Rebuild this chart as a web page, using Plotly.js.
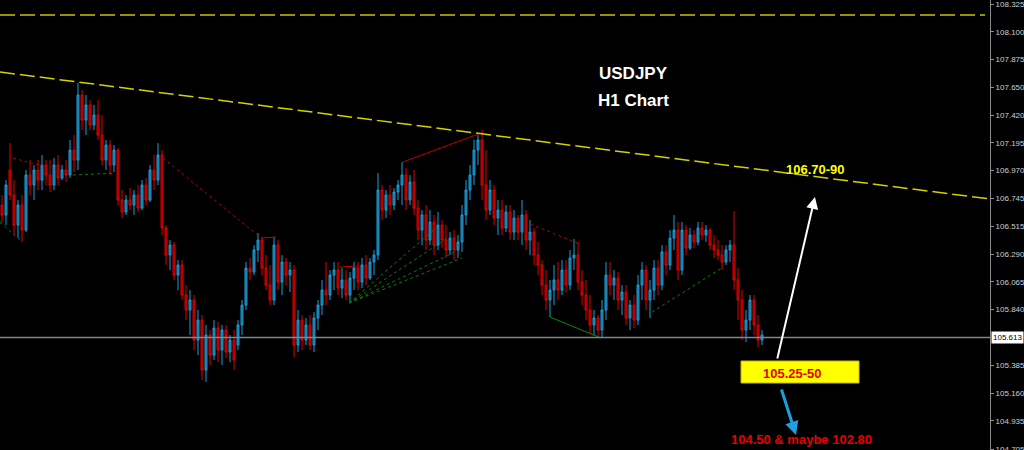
<!DOCTYPE html>
<html>
<head>
<meta charset="utf-8">
<script src="https://cdn.plot.ly/plotly-3.0.1.min.js"></script>
<style>html,body{margin:0;padding:0;background:#000;}#chart{width:1024px;height:450px;}</style>
</head>
<body>
<div id="chart"></div>
<script>
// ---- USDJPY H1 candles (prices) ----
const openP = [
106.690,106.609,106.975,106.771,106.527,106.690,106.486,106.934,106.853,106.975,
106.893,107.015,106.934,106.853,107.015,106.910,106.975,106.934,107.137,107.056,
107.585,107.381,107.504,107.341,107.422,107.259,107.056,107.178,107.015,107.137,
106.731,106.633,106.731,106.690,106.771,106.665,106.853,106.731,106.975,106.893,
107.097,106.503,106.283,106.364,106.120,106.202,105.958,105.836,105.917,105.591,
105.754,105.347,105.632,105.469,105.689,105.510,105.673,105.494,105.591,105.551,
105.714,105.876,106.177,106.145,106.324,106.405,106.177,106.039,105.917,106.364,
106.063,106.226,106.120,106.161,105.551,105.754,105.591,105.714,105.551,105.771,
105.876,105.998,105.958,106.120,106.161,106.015,106.080,105.958,106.096,106.177,
106.063,106.202,106.096,106.226,106.283,106.812,106.649,106.771,106.690,106.796,
106.853,106.934,106.731,106.877,106.665,106.486,106.609,106.405,106.552,106.364,
106.527,106.405,106.324,106.421,106.324,106.389,106.609,106.812,106.934,107.137,
107.219,106.853,106.649,106.812,106.584,106.649,106.503,106.633,106.470,106.584,
106.470,106.609,106.405,106.470,106.283,106.202,106.039,105.917,105.998,106.080,
105.998,106.161,106.039,106.259,106.283,106.063,105.958,105.836,105.714,105.771,
105.673,105.836,106.120,106.039,106.096,105.917,105.982,105.771,105.876,105.754,
106.039,106.161,105.917,105.998,106.177,106.039,106.308,106.202,106.421,106.486,
106.161,106.486,106.340,106.446,106.389,106.503,106.446,106.486,106.364,106.324,
106.283,106.226,106.324,106.364,106.080,105.917,105.673,105.754,105.917,105.714,
105.591];
const highP = [
106.771,106.893,107.194,106.893,106.731,106.771,106.975,107.056,107.015,107.056,
107.097,107.056,107.056,107.072,107.097,107.015,107.056,107.219,107.259,107.683,
107.626,107.585,107.544,107.504,107.544,107.422,107.219,107.219,107.178,107.154,
106.812,106.771,106.828,106.812,106.853,106.893,106.910,107.015,107.097,107.194,
107.137,106.527,106.405,106.389,106.242,106.242,106.039,105.998,105.958,105.836,
105.795,105.714,105.673,105.754,105.738,105.714,105.714,105.632,105.673,105.754,
105.917,106.226,106.259,106.364,106.462,106.430,106.283,106.202,106.430,106.405,
106.283,106.259,106.226,106.202,105.836,105.795,105.771,105.795,105.819,105.917,
106.080,106.226,106.161,106.226,106.226,106.177,106.161,106.145,106.226,106.226,
106.259,106.283,106.259,106.324,106.950,106.853,106.812,106.853,106.828,106.893,
107.040,106.991,106.934,106.975,106.731,106.649,106.690,106.649,106.609,106.633,
106.568,106.527,106.470,106.486,106.446,106.690,106.893,107.015,107.219,107.259,
107.300,107.137,106.893,106.853,106.731,106.731,106.690,106.690,106.649,106.609,
106.731,106.649,106.568,106.503,106.389,106.242,106.161,106.080,106.202,106.226,
106.242,106.242,106.324,106.413,106.389,106.161,106.080,105.958,105.836,105.795,
105.917,106.226,106.226,106.161,106.145,106.039,106.039,105.917,105.958,106.120,
106.226,106.202,106.080,106.242,106.242,106.364,106.364,106.486,106.609,106.552,
106.552,106.527,106.503,106.486,106.552,106.552,106.527,106.503,106.446,106.405,
106.364,106.364,106.405,106.641,106.177,105.998,105.836,105.958,105.958,105.795,
105.673];
const lowP = [
106.552,106.527,106.731,106.446,106.421,106.389,106.470,106.771,106.731,106.812,
106.812,106.853,106.796,106.812,106.853,106.893,106.877,106.910,106.958,106.975,
107.300,107.259,107.300,107.300,107.219,107.015,106.975,106.934,106.958,106.690,
106.584,106.609,106.649,106.609,106.633,106.649,106.690,106.714,106.812,106.853,
106.446,106.202,106.161,106.080,105.998,105.917,105.754,105.632,105.510,105.469,
105.266,105.250,105.388,105.429,105.412,105.388,105.445,105.412,105.347,105.510,
105.632,105.836,106.080,106.120,106.226,106.120,105.998,105.876,105.876,105.998,
105.958,106.039,105.982,105.453,105.494,105.510,105.551,105.510,105.494,105.673,
105.795,105.876,105.917,105.998,105.958,105.933,105.917,105.893,105.998,105.998,
106.015,106.039,106.080,106.120,106.242,106.568,106.584,106.609,106.649,106.731,
106.690,106.649,106.690,106.609,106.405,106.364,106.324,106.364,106.283,106.324,
106.340,106.259,106.283,106.242,106.259,106.308,106.527,106.731,106.853,107.015,
106.731,106.568,106.609,106.527,106.446,106.446,106.470,106.405,106.405,106.405,
106.364,106.324,106.283,106.202,106.120,105.958,105.836,105.779,105.876,105.917,
105.958,105.982,105.998,106.161,105.998,105.876,105.754,105.648,105.632,105.608,
105.616,105.754,105.958,105.917,105.836,105.795,105.714,105.673,105.689,105.714,
105.917,105.836,105.771,105.917,105.958,105.998,106.120,106.161,106.324,106.080,
106.120,106.283,106.324,106.340,106.364,106.405,106.389,106.324,106.259,106.242,
106.161,106.202,106.226,105.998,105.754,105.591,105.575,105.673,105.632,105.534,
105.551];
const closeP = [
106.609,106.853,106.771,106.527,106.690,106.486,106.934,106.853,106.975,106.893,
107.015,106.934,106.853,107.015,106.910,106.975,106.934,107.137,107.056,107.585,
107.381,107.504,107.341,107.422,107.259,107.056,107.178,107.015,107.137,106.731,
106.633,106.731,106.690,106.771,106.665,106.853,106.731,106.975,106.893,107.097,
106.503,106.283,106.364,106.120,106.202,105.958,105.836,105.917,105.591,105.754,
105.347,105.632,105.469,105.689,105.510,105.673,105.494,105.591,105.429,105.714,
105.876,106.177,106.145,106.324,106.405,106.177,106.039,105.917,106.364,106.063,
106.226,106.120,106.161,105.551,105.754,105.591,105.714,105.551,105.771,105.876,
105.998,105.958,106.120,106.161,106.015,106.080,105.958,106.096,106.177,106.063,
106.202,106.096,106.226,106.283,106.812,106.649,106.771,106.690,106.796,106.853,
106.934,106.731,106.877,106.665,106.486,106.609,106.405,106.552,106.364,106.527,
106.405,106.324,106.421,106.324,106.389,106.609,106.812,106.934,107.137,107.219,
106.853,106.649,106.812,106.584,106.649,106.503,106.633,106.470,106.584,106.470,
106.609,106.405,106.470,106.283,106.202,106.039,105.917,105.998,106.080,105.998,
106.161,106.039,106.259,106.283,106.063,105.958,105.836,105.714,105.771,105.673,
105.836,106.120,106.039,106.096,105.917,105.982,105.771,105.876,105.754,106.039,
106.161,105.917,105.998,106.177,106.039,106.308,106.202,106.421,106.486,106.161,
106.486,106.340,106.446,106.389,106.503,106.446,106.486,106.364,106.324,106.283,
106.226,106.324,106.364,106.080,105.917,105.673,105.754,105.917,105.714,105.591,
105.632];

// ---- axis ticks ----
const tickVals = [108.325,108.100,107.875,107.650,107.420,107.195,106.970,106.745,106.515,106.290,106.065,105.840,105.385,105.160,104.935,104.705];
const tickText = tickVals.map(v => v.toFixed(3));
const lastPrice = 105.613;

// ---- drawn lines (bar index, price) ----
const trendX = [-0.5, 247],   trendY = [107.772, 106.739];
const resistX = [-0.5, 245.75], resistY = [108.236, 108.236];
const priceLineX = [-0.5, 247];
const greenDashSegs = [
  [[-0.5, 5], [106.552, 106.389]],
  [[17.75, 28.25], [106.934, 106.950]],
  [[86.75, 108.75], [105.893, 106.511]],
  [[86.75, 111], [105.893, 106.413]],
  [[86.75, 113.25], [105.893, 106.308]],
  [[86.75, 115], [105.893, 106.259]],
  [[162.5, 180.25], [105.819, 106.185]]
];
const greenSolidSegs = [
  [[137, 149.75], [105.779, 105.608]]
];
const redDashSegs = [
  [[2.75, 10.25], [107.072, 107.007]],
  [[40.25, 64.5], [107.072, 106.430]],
  [[130.75, 144.5], [106.552, 106.373]]
];
const redSolidSegs = [
  [[64.75, 68.5], [106.421, 106.430]],
  [[84.25, 89], [106.185, 106.194]],
  [[100.25, 119.75], [107.040, 107.276]]
];

const idx = closeP.map((_, i) => i);

const traces = [{
  type: 'candlestick', x: idx, open: openP, high: highP, low: lowP, close: closeP,
  increasing: {line: {color: '#1a9fdc', width: 1}, fillcolor: '#1b6d92'},
  decreasing: {line: {color: '#e00000', width: 1}, fillcolor: '#900000'},
  whiskerwidth: 0, hoverinfo: 'skip', showlegend: false
}];
function seg(list, color, dash, width) {
  list.forEach(s => traces.push({type: 'scatter', mode: 'lines', x: s[0], y: s[1],
    line: {color: color, dash: dash, width: width}, hoverinfo: 'skip', showlegend: false}));
}
seg(greenDashSegs, '#0a7d0a', '3px,3px', 1);
seg(greenSolidSegs, '#0a8a0a', 'solid', 1);
seg(redDashSegs, '#b00000', '3px,3px', 1);
seg(redSolidSegs, '#c00000', 'solid', 1);
traces.push({type: 'scatter', mode: 'lines', x: priceLineX, y: [lastPrice, lastPrice],
  line: {color: '#7d8790', width: 1.5}, hoverinfo: 'skip', showlegend: false});
traces.push({type: 'scatter', mode: 'lines', x: trendX, y: trendY,
  line: {color: '#d2d200', width: 1.5, dash: '15px,5px'}, hoverinfo: 'skip', showlegend: false});
traces.push({type: 'scatter', mode: 'lines', x: resistX, y: resistY,
  line: {color: '#c8c800', width: 1.5, dash: '15px,5px'}, hoverinfo: 'skip', showlegend: false});

const bold = 'Arial, Liberation Sans, sans-serif';
function label(x, y, text, size, color) {
  return {xref: 'paper', yref: 'paper', x: x, y: y, xanchor: 'center', yanchor: 'middle',
    text: '<b>' + text + '</b>', showarrow: false, font: {family: bold, size: size, color: color}};
}
const layout = {
  width: 1024, height: 450,
  margin: {l: 0, r: 34, t: 0, b: 0, pad: 0},
  paper_bgcolor: '#000000', plot_bgcolor: '#000000',
  showlegend: false, hovermode: false,
  xaxis: {range: [-0.5, 247], visible: false, rangeslider: {visible: false}, fixedrange: true},
  yaxis: {side: 'right', range: [104.697, 108.358], tickmode: 'array', tickvals: tickVals, ticktext: tickText,
    showgrid: false, zeroline: false, showline: true, linecolor: '#8c8c8c', linewidth: 1,
    ticks: 'outside', ticklen: 3, tickcolor: '#8c8c8c', ticklabeloverflow: 'allow',
    tickfont: {family: 'Liberation Sans, Arial, sans-serif', size: 8, color: '#c8d0d8'}, fixedrange: true},
  shapes: [{type: 'rect', xref: 'paper', yref: 'paper', x0: 0.7485, x1: 0.8677, y0: 0.1489, y1: 0.1978,
    fillcolor: '#ffff00', line: {color: '#c8b400', width: 1}, layer: 'above'}],
  annotations: [
    label(0.6404, 0.8362, 'USDJPY', 17, '#ffffff'),
    label(0.6404, 0.7767, 'H1 Chart', 17, '#ffffff'),
    label(0.8242, 0.6233, '106.70-90', 13, '#ffff00'),
    label(0.8, 0.17, '105.25-50', 13, '#e60000'),
    label(0.8101, 0.0244, '104.50 &amp; maybe 102.80', 13, '#e60000'),
    {xref: 'paper', yref: 'paper', x: 0.8232, y: 0.5622, text: '', showarrow: true, ax: -38, ay: 163,
     arrowcolor: '#ffffff', arrowwidth: 2, arrowhead: 2, arrowsize: 1.2, standoff: 0},
    {xref: 'paper', yref: 'paper', x: 0.8040, y: 0.0333, text: '', showarrow: true, ax: -15, ay: -47,
     arrowcolor: '#1e9fe0', arrowwidth: 3, arrowhead: 2, arrowsize: 0.9, standoff: 0},
    {xref: 'paper', yref: 'y', x: 1, y: lastPrice, xanchor: 'left', yanchor: 'middle', xshift: 1, text: lastPrice.toFixed(3),
     showarrow: false, bgcolor: '#ffffff', borderpad: 1,
     font: {family: 'Liberation Sans, Arial, sans-serif', size: 8, color: '#000000'}}
  ]
};
Plotly.newPlot('chart', traces, layout, {displayModeBar: false, staticPlot: true});
</script>
</body>
</html>
